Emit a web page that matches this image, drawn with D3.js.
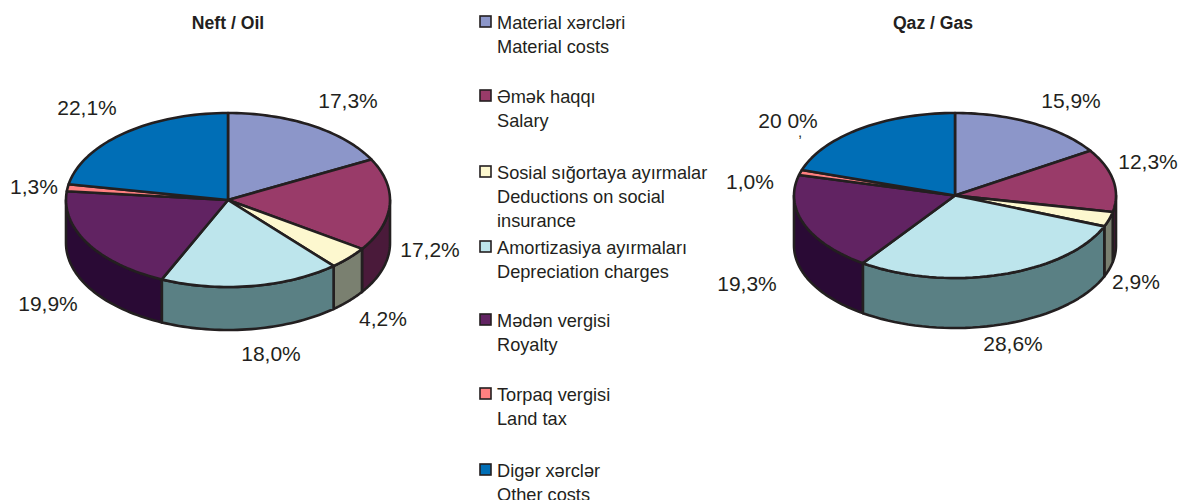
<!DOCTYPE html>
<html><head><meta charset="utf-8">
<script src="https://cdn.jsdelivr.net/npm/d3@7/dist/d3.min.js"></script>
<style>html,body{margin:0;padding:0;background:#fff;overflow:hidden}svg{display:block}text{font-family:"Liberation Sans",Arial,sans-serif;fill:#231f20}</style>
</head><body><svg id="c" width="1181" height="500"></svg>
<script>
const legendAz = ["Material xərcləri","Əmək haqqı","Sosial sığortaya ayırmalar","Amortizasiya ayırmaları","Mədən vergisi","Torpaq vergisi","Digər xərclər"];
const legendEn = [["Material costs"],["Salary"],["Deductions on social","insurance"],["Depreciation charges"],["Royalty"],["Land tax"],["Other costs"]];
const oilValues = [17.3,17.2,4.2,18.0,19.9,1.3,22.1];
const gasValues = [15.9,12.3,2.9,28.6,19.3,1.0,20.0];
const oilLabels = ["17,3%","17,2%","4,2%","18,0%","19,9%","1,3%","22,1%"];
const gasLabels = ["15,9%","12,3%","2,9%","28,6%","19,3%","1,0%","20 0%"];
const topColors = ["#8c96c9","#993b69","#fdf8cf","#bde5ec","#612362","#ff8080","#006eb6"];
const sideColors = ["#464b64","#4a1a3a","#7a8070","#5a8084","#2a0a35","#804040","#003758"];
const oilLabelPos = [[348,100.5],[430,249.5],[383,318.5],[271,353.5],[48,303.5],[34,186.5],[87,107.5]];
const gasLabelPos = [[1071,100.5],[1148,161.5],[1136,281.5],[1013,343.5],[747,283.5],[750,181.5],[788,120.5]];
const legendY = [22,96,172,247,320,394,470];
const ink = "#231f20";

const svg = d3.select("#c");
const pie = d3.pie().sort(null);

function drawPie(title, titleX, values, labels, pos, cx, cy, rx, ry, depth) {
  const g = svg.append("g");
  const arcs = pie(values);
  const px = d3.scaleLinear().domain([-1,1]).range([cx-rx,cx+rx]);
  const py = d3.scaleLinear().domain([-1,1]).range([cy-ry,cy+ry]);
  const line = d3.line().curve(d3.curveLinear);
  const sample = (a0,a1) => d3.range(0,41).map(i => a0+(a1-a0)*i/40);
  const pt = (t,dy=0) => [px(Math.sin(t)), py(-Math.cos(t))+dy];

  // side walls: only the part of each slice facing the viewer
  const lo = Math.PI/2, hi = 3*Math.PI/2;
  arcs.forEach((a,i) => {
    const a0 = Math.max(a.startAngle,lo), a1 = Math.min(a.endAngle,hi);
    if (a1 <= a0) return;
    const ts = sample(a0,a1);
    const d = line(ts.map(t=>pt(t)).concat(ts.slice().reverse().map(t=>pt(t,depth))))+"Z";
    g.append("path").attr("d",d).attr("fill",sideColors[i]).attr("stroke",ink).attr("stroke-width",2.6).attr("stroke-linejoin","round");
  });
  // top face
  arcs.forEach((a,i) => {
    const d = line([[cx,cy]].concat(sample(a.startAngle,a.endAngle).map(t=>pt(t))))+"Z";
    g.append("path").attr("d",d).attr("fill",topColors[i]).attr("stroke",ink).attr("stroke-width",2.6).attr("stroke-linejoin","round");
  });
  g.append("text").attr("x",titleX).attr("y",28.5).attr("text-anchor","middle")
    .attr("font-size",17.6).attr("font-weight","bold").text(title);
  labels.forEach((l,i) => {
    g.append("text").attr("x",pos[i][0]).attr("y",pos[i][1]).attr("dy",".36em")
      .attr("text-anchor","middle").attr("font-size",21).text(l);
  });
}
drawPie("Neft / Oil", 228, oilValues, oilLabels, oilLabelPos, 228, 200, 162, 87, 43);
drawPie("Qaz / Gas", 933, gasValues, gasLabels, gasLabelPos, 955, 195.5, 161, 82.5, 50);
// the detached comma of "20 0%" in the source
svg.append("text").attr("x",800).attr("y",137).attr("text-anchor","middle").attr("font-size",15).text(",");

// legend
const lg = svg.append("g");
legendAz.forEach((t,i) => {
  const y = legendY[i];
  lg.append("rect").attr("x",480).attr("y",y-6).attr("width",11).attr("height",11)
    .attr("fill",topColors[i]).attr("stroke",ink).attr("stroke-width",1.6);
  lg.append("text").attr("x",497).attr("y",y).attr("dy",".36em").attr("font-size",18.2).text(t);
  legendEn[i].forEach((s,j) => {
    lg.append("text").attr("x",497).attr("y",y+24*(j+1)).attr("dy",".36em").attr("font-size",18.2).text(s);
  });
});
</script></body></html>
